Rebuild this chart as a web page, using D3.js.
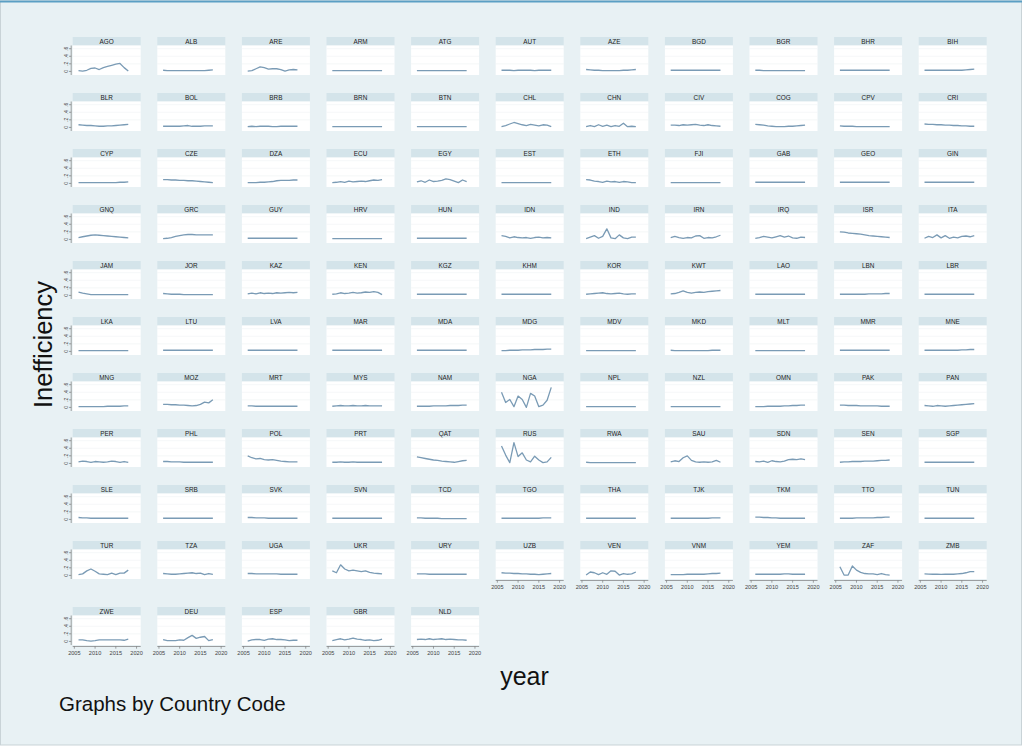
<!DOCTYPE html>
<html><head><meta charset="utf-8">
<script src="https://cdn.jsdelivr.net/npm/d3@7"></script>
<style>body{margin:0;background:#fff;} svg{display:block;font-family:"Liberation Sans",Arial,sans-serif;}</style>
</head><body><svg id="c" width="1024" height="747"></svg>
<script>
const years = [2006,2007,2008,2009,2010,2011,2012,2013,2014,2015,2016,2017,2018];
const xTicks = [2005,2010,2015,2020];
const yTicks = [0,0.2,0.4,0.6];
const yTickLabels = ["0",".2",".4",".6"];

const row1Codes = ["AGO","ALB","ARE","ARM","ATG","AUT","AZE","BGD","BGR","BHR","BIH"];
const row1Values = [
 [0.02,0.01,0.03,0.08,0.09,0.05,0.10,0.13,0.16,0.19,0.21,0.10,0.01],
 [0.03,0.02,0.02,0.02,0.02,0.02,0.02,0.02,0.02,0.02,0.02,0.03,0.04],
 [0.01,0.02,0.07,0.12,0.10,0.06,0.07,0.07,0.05,0.01,0.04,0.05,0.04],
 [0.02,0.02,0.02,0.02,0.02,0.02,0.02,0.02,0.02,0.02,0.02,0.02,0.02],
 [0.02,0.02,0.02,0.02,0.02,0.02,0.02,0.02,0.02,0.02,0.02,0.02,0.02],
 [0.03,0.03,0.03,0.02,0.03,0.03,0.03,0.03,0.02,0.03,0.03,0.03,0.03],
 [0.05,0.04,0.03,0.03,0.02,0.02,0.02,0.02,0.02,0.03,0.03,0.04,0.05],
 [0.03,0.03,0.03,0.03,0.03,0.03,0.03,0.03,0.03,0.03,0.03,0.03,0.03],
 [0.03,0.03,0.02,0.02,0.02,0.02,0.02,0.02,0.02,0.02,0.02,0.02,0.02],
 [0.03,0.03,0.03,0.03,0.03,0.03,0.03,0.03,0.03,0.03,0.03,0.03,0.03],
 [0.03,0.03,0.03,0.03,0.03,0.03,0.03,0.03,0.03,0.03,0.04,0.05,0.06]];

const row2Codes = ["BLR","BOL","BRB","BRN","BTN","CHL","CHN","CIV","COG","CPV","CRI"];
const row2Values = [
 [0.07,0.06,0.05,0.05,0.04,0.03,0.03,0.04,0.04,0.05,0.06,0.07,0.08],
 [0.03,0.03,0.03,0.03,0.03,0.04,0.05,0.03,0.03,0.03,0.04,0.04,0.04],
 [0.02,0.03,0.02,0.03,0.03,0.03,0.02,0.02,0.03,0.03,0.03,0.03,0.03],
 [0.02,0.02,0.02,0.02,0.02,0.02,0.02,0.02,0.02,0.02,0.02,0.02,0.02],
 [0.02,0.02,0.02,0.02,0.02,0.02,0.02,0.02,0.02,0.02,0.02,0.02,0.02],
 [0.02,0.05,0.09,0.13,0.10,0.07,0.05,0.08,0.06,0.04,0.07,0.06,0.02],
 [0.02,0.05,0.02,0.07,0.03,0.06,0.02,0.05,0.03,0.11,0.02,0.03,0.02],
 [0.06,0.06,0.05,0.07,0.06,0.07,0.08,0.06,0.05,0.07,0.05,0.04,0.03],
 [0.08,0.07,0.06,0.04,0.03,0.02,0.02,0.02,0.03,0.03,0.04,0.05,0.06],
 [0.04,0.03,0.03,0.03,0.02,0.02,0.02,0.02,0.02,0.02,0.02,0.02,0.02],
 [0.09,0.08,0.08,0.07,0.07,0.06,0.06,0.05,0.05,0.04,0.04,0.03,0.03]];

const row3Codes = ["CYP","CZE","DZA","ECU","EGY","EST","ETH","FJI","GAB","GEO","GIN"];
const row3Values = [
 [0.02,0.02,0.02,0.02,0.02,0.02,0.02,0.02,0.02,0.02,0.03,0.03,0.04],
 [0.10,0.10,0.09,0.09,0.08,0.08,0.07,0.07,0.06,0.05,0.04,0.03,0.02],
 [0.02,0.02,0.02,0.03,0.03,0.04,0.05,0.07,0.08,0.08,0.08,0.09,0.09],
 [0.02,0.03,0.05,0.03,0.06,0.04,0.05,0.06,0.05,0.07,0.09,0.08,0.10],
 [0.04,0.07,0.03,0.09,0.05,0.06,0.08,0.12,0.10,0.06,0.02,0.09,0.05],
 [0.02,0.02,0.02,0.02,0.02,0.02,0.02,0.02,0.02,0.02,0.02,0.02,0.02],
 [0.10,0.09,0.06,0.05,0.03,0.06,0.04,0.05,0.03,0.05,0.04,0.02,0.02],
 [0.02,0.02,0.02,0.02,0.02,0.02,0.02,0.02,0.02,0.02,0.02,0.02,0.02],
 [0.03,0.03,0.03,0.03,0.03,0.03,0.03,0.03,0.03,0.03,0.03,0.03,0.03],
 [0.03,0.03,0.03,0.03,0.03,0.03,0.03,0.03,0.03,0.03,0.03,0.03,0.03],
 [0.03,0.03,0.03,0.03,0.03,0.03,0.03,0.03,0.03,0.03,0.03,0.03,0.03]];

const row4Codes = ["GNQ","GRC","GUY","HRV","HUN","IDN","IND","IRN","IRQ","ISR","ITA"];
const row4Values = [
 [0.05,0.07,0.09,0.11,0.12,0.11,0.10,0.09,0.08,0.07,0.06,0.05,0.04],
 [0.02,0.03,0.05,0.08,0.10,0.12,0.13,0.13,0.12,0.12,0.12,0.12,0.12],
 [0.03,0.03,0.03,0.03,0.03,0.03,0.03,0.03,0.03,0.03,0.03,0.03,0.03],
 [0.02,0.02,0.02,0.02,0.02,0.02,0.02,0.02,0.02,0.02,0.02,0.02,0.02],
 [0.03,0.03,0.03,0.03,0.03,0.03,0.03,0.03,0.03,0.03,0.03,0.03,0.03],
 [0.10,0.08,0.04,0.07,0.05,0.04,0.05,0.03,0.05,0.06,0.04,0.05,0.04],
 [0.02,0.06,0.10,0.03,0.08,0.28,0.04,0.02,0.12,0.04,0.02,0.06,0.06],
 [0.05,0.08,0.05,0.03,0.05,0.04,0.09,0.10,0.03,0.05,0.04,0.07,0.11],
 [0.03,0.05,0.08,0.06,0.04,0.07,0.10,0.06,0.09,0.04,0.03,0.06,0.05],
 [0.20,0.19,0.17,0.16,0.15,0.14,0.12,0.10,0.09,0.08,0.07,0.06,0.05],
 [0.03,0.08,0.05,0.12,0.04,0.10,0.03,0.06,0.04,0.08,0.09,0.07,0.10]];

const row5Codes = ["JAM","JOR","KAZ","KEN","KGZ","KHM","KOR","KWT","LAO","LBN","LBR"];
const row5Values = [
 [0.09,0.06,0.04,0.02,0.02,0.02,0.02,0.02,0.02,0.02,0.02,0.02,0.02],
 [0.05,0.04,0.03,0.03,0.03,0.02,0.02,0.02,0.02,0.02,0.02,0.02,0.02],
 [0.04,0.06,0.04,0.07,0.05,0.06,0.05,0.07,0.06,0.07,0.08,0.07,0.08],
 [0.03,0.04,0.07,0.05,0.06,0.08,0.06,0.07,0.09,0.08,0.10,0.08,0.02],
 [0.03,0.03,0.03,0.03,0.03,0.03,0.03,0.03,0.03,0.03,0.03,0.03,0.03],
 [0.03,0.03,0.03,0.03,0.03,0.03,0.03,0.03,0.03,0.03,0.03,0.03,0.03],
 [0.03,0.04,0.05,0.06,0.07,0.05,0.04,0.05,0.06,0.04,0.03,0.04,0.04],
 [0.04,0.05,0.08,0.12,0.08,0.06,0.08,0.09,0.08,0.10,0.11,0.12,0.13],
 [0.03,0.03,0.03,0.03,0.03,0.03,0.03,0.03,0.03,0.03,0.03,0.03,0.03],
 [0.03,0.03,0.03,0.03,0.03,0.03,0.03,0.04,0.04,0.04,0.04,0.05,0.05],
 [0.03,0.03,0.03,0.03,0.03,0.03,0.03,0.03,0.03,0.03,0.03,0.03,0.03]];

const row6Codes = ["LKA","LTU","LVA","MAR","MDA","MDG","MDV","MKD","MLT","MMR","MNE"];
const row6Values = [
 [0.02,0.02,0.02,0.02,0.02,0.02,0.02,0.02,0.02,0.02,0.02,0.02,0.02],
 [0.03,0.03,0.03,0.03,0.03,0.03,0.03,0.03,0.03,0.03,0.03,0.03,0.03],
 [0.03,0.03,0.03,0.03,0.03,0.03,0.03,0.03,0.03,0.03,0.03,0.03,0.03],
 [0.03,0.03,0.03,0.03,0.03,0.03,0.03,0.03,0.03,0.03,0.03,0.03,0.03],
 [0.03,0.03,0.03,0.03,0.03,0.03,0.03,0.03,0.03,0.03,0.03,0.03,0.03],
 [0.02,0.02,0.03,0.03,0.03,0.04,0.04,0.04,0.05,0.05,0.05,0.06,0.06],
 [0.02,0.02,0.02,0.02,0.02,0.02,0.02,0.02,0.02,0.02,0.02,0.02,0.02],
 [0.03,0.02,0.02,0.02,0.02,0.02,0.02,0.02,0.02,0.02,0.03,0.03,0.03],
 [0.02,0.02,0.02,0.02,0.02,0.02,0.02,0.02,0.02,0.02,0.02,0.02,0.02],
 [0.03,0.03,0.03,0.03,0.03,0.03,0.03,0.03,0.03,0.03,0.03,0.03,0.03],
 [0.03,0.03,0.03,0.03,0.03,0.03,0.03,0.03,0.03,0.04,0.04,0.05,0.05]];

const row7Codes = ["MNG","MOZ","MRT","MYS","NAM","NGA","NPL","NZL","OMN","PAK","PAN"];
const row7Values = [
 [0.02,0.02,0.02,0.02,0.02,0.02,0.02,0.03,0.03,0.03,0.03,0.04,0.04],
 [0.08,0.08,0.07,0.07,0.06,0.06,0.05,0.04,0.05,0.08,0.14,0.12,0.20],
 [0.04,0.04,0.03,0.03,0.03,0.03,0.03,0.03,0.03,0.03,0.03,0.03,0.03],
 [0.03,0.04,0.05,0.04,0.04,0.05,0.04,0.04,0.05,0.04,0.04,0.04,0.04],
 [0.03,0.03,0.03,0.03,0.04,0.04,0.04,0.04,0.05,0.05,0.05,0.06,0.06],
 [0.40,0.13,0.21,0.02,0.30,0.21,0.00,0.37,0.30,0.02,0.06,0.19,0.53],
 [0.02,0.02,0.02,0.02,0.02,0.02,0.02,0.02,0.02,0.02,0.02,0.02,0.02],
 [0.02,0.02,0.02,0.02,0.02,0.02,0.02,0.02,0.02,0.02,0.02,0.02,0.02],
 [0.02,0.02,0.02,0.03,0.03,0.03,0.03,0.04,0.04,0.05,0.05,0.06,0.06],
 [0.06,0.06,0.05,0.05,0.05,0.04,0.04,0.04,0.04,0.04,0.03,0.03,0.03],
 [0.05,0.04,0.03,0.05,0.04,0.03,0.04,0.05,0.06,0.07,0.08,0.09,0.10]];

const row8Codes = ["PER","PHL","POL","PRT","QAT","RUS","RWA","SAU","SDN","SEN","SGP"];
const row8Values = [
 [0.04,0.06,0.05,0.03,0.05,0.04,0.03,0.04,0.06,0.05,0.03,0.05,0.03],
 [0.05,0.05,0.04,0.04,0.04,0.03,0.03,0.03,0.03,0.03,0.03,0.03,0.03],
 [0.20,0.15,0.12,0.13,0.10,0.09,0.10,0.08,0.06,0.05,0.04,0.04,0.04],
 [0.03,0.03,0.04,0.03,0.03,0.04,0.03,0.03,0.03,0.03,0.03,0.03,0.03],
 [0.17,0.15,0.13,0.11,0.09,0.08,0.06,0.05,0.04,0.03,0.05,0.07,0.08],
 [0.46,0.22,0.02,0.55,0.18,0.28,0.09,0.04,0.19,0.09,0.02,0.04,0.16],
 [0.03,0.02,0.02,0.02,0.02,0.02,0.02,0.02,0.02,0.02,0.02,0.02,0.02],
 [0.04,0.07,0.05,0.15,0.20,0.08,0.04,0.03,0.04,0.03,0.04,0.08,0.03],
 [0.05,0.04,0.06,0.03,0.07,0.05,0.04,0.06,0.10,0.11,0.10,0.12,0.10],
 [0.03,0.04,0.04,0.05,0.05,0.05,0.06,0.06,0.06,0.07,0.08,0.08,0.09],
 [0.03,0.03,0.03,0.03,0.03,0.03,0.03,0.03,0.03,0.03,0.03,0.03,0.03]];

const row9Codes = ["SLE","SRB","SVK","SVN","TCD","TGO","THA","TJK","TKM","TTO","TUN"];
const row9Values = [
 [0.05,0.04,0.04,0.03,0.03,0.03,0.03,0.03,0.03,0.03,0.03,0.03,0.03],
 [0.03,0.03,0.03,0.03,0.03,0.03,0.03,0.03,0.03,0.03,0.03,0.03,0.03],
 [0.05,0.05,0.04,0.04,0.04,0.03,0.03,0.03,0.03,0.03,0.03,0.03,0.03],
 [0.03,0.03,0.03,0.03,0.03,0.03,0.03,0.03,0.03,0.03,0.03,0.03,0.03],
 [0.04,0.04,0.03,0.03,0.03,0.03,0.02,0.02,0.02,0.02,0.02,0.02,0.02],
 [0.03,0.03,0.03,0.03,0.03,0.03,0.03,0.03,0.03,0.03,0.04,0.04,0.04],
 [0.03,0.03,0.03,0.03,0.03,0.03,0.03,0.03,0.03,0.03,0.03,0.03,0.03],
 [0.03,0.03,0.03,0.03,0.03,0.03,0.03,0.03,0.03,0.03,0.04,0.04,0.04],
 [0.06,0.06,0.05,0.05,0.04,0.04,0.03,0.03,0.03,0.03,0.03,0.03,0.03],
 [0.03,0.03,0.03,0.03,0.04,0.04,0.04,0.04,0.04,0.05,0.05,0.06,0.06],
 [0.03,0.03,0.03,0.03,0.03,0.03,0.03,0.03,0.03,0.03,0.03,0.03,0.03]];

const row10Codes = ["TUR","TZA","UGA","UKR","URY","UZB","VEN","VNM","YEM","ZAF","ZMB"];
const row10Values = [
 [0.02,0.04,0.12,0.17,0.11,0.04,0.03,0.02,0.06,0.02,0.06,0.06,0.14],
 [0.05,0.04,0.03,0.03,0.04,0.05,0.06,0.07,0.05,0.06,0.02,0.05,0.03],
 [0.05,0.05,0.04,0.04,0.04,0.04,0.04,0.04,0.03,0.03,0.03,0.03,0.03],
 [0.12,0.07,0.28,0.17,0.12,0.14,0.12,0.10,0.12,0.08,0.06,0.05,0.04],
 [0.04,0.04,0.04,0.03,0.03,0.03,0.03,0.03,0.03,0.03,0.03,0.03,0.03],
 [0.07,0.06,0.06,0.05,0.05,0.04,0.04,0.03,0.03,0.02,0.03,0.04,0.05],
 [0.01,0.09,0.07,0.02,0.07,0.03,0.12,0.11,0.01,0.05,0.03,0.04,0.09],
 [0.02,0.02,0.02,0.02,0.03,0.03,0.03,0.03,0.03,0.04,0.05,0.05,0.06],
 [0.03,0.03,0.03,0.03,0.03,0.03,0.03,0.04,0.04,0.03,0.03,0.03,0.03],
 [0.23,0.01,0.01,0.25,0.14,0.08,0.05,0.04,0.04,0.02,0.05,0.02,0.01],
 [0.04,0.035,0.03,0.03,0.025,0.03,0.03,0.03,0.04,0.05,0.07,0.10,0.10]];

const row11Codes = ["ZWE","DEU","ESP","GBR","NLD"];
const row11Values = [
 [0.04,0.04,0.02,0.01,0.02,0.04,0.04,0.04,0.04,0.04,0.04,0.03,0.06],
 [0.05,0.02,0.02,0.02,0.04,0.03,0.10,0.16,0.08,0.11,0.13,0.02,0.05],
 [0.01,0.04,0.05,0.05,0.03,0.06,0.07,0.05,0.05,0.04,0.02,0.03,0.03],
 [0.02,0.05,0.07,0.04,0.06,0.09,0.06,0.05,0.03,0.04,0.02,0.03,0.06],
 [0.05,0.06,0.05,0.07,0.05,0.06,0.07,0.05,0.06,0.05,0.04,0.04,0.03]];

const rowCodes = [row1Codes,row2Codes,row3Codes,row4Codes,row5Codes,row6Codes,row7Codes,row8Codes,row9Codes,row10Codes,row11Codes];
const rowValues = [row1Values,row2Values,row3Values,row4Values,row5Values,row6Values,row7Values,row8Values,row9Values,row10Values,row11Values];

// ---- layout ----
const W = 1024, H = 747;
const svg = d3.select("#c");
svg.append("rect").attr("x",0).attr("y",0).attr("width",W).attr("height",H).attr("fill","#ffffff");
svg.append("rect").attr("x",0.5).attr("y",1).attr("width",1021).attr("height",744)
  .attr("fill","#e8f1f4").attr("stroke","#c9d3d7").attr("stroke-width",1);
svg.append("line").attr("x1",0).attr("x2",1022).attr("y1",1.5).attr("y2",1.5)
  .attr("stroke","#5b9fc4").attr("stroke-width",2);

const colX0 = 72.7, colStep = 84.6, plotW = 68;
const rowY0 = 37, rowStep = 56, headerH = 8.5, plotH = 29.5;
const lastRowExtra = 10;
const nRows = rowCodes.length;

const lineColor = "#7a9bb5";

rowCodes.forEach((codes, r) => {
  codes.forEach((code, c) => {
    const top = rowY0 + r*rowStep + (r === nRows-1 ? lastRowExtra : 0);
    const left = colX0 + c*colStep;
    const pTop = top + headerH, pBot = pTop + plotH;
    const x = d3.scaleLinear().domain([2004.6, 2021.0]).range([left, left+plotW]);
    const y = d3.scaleLinear().domain([-0.095, 0.685]).range([pBot, pTop]);
    const g = svg.append("g");
    g.append("rect").attr("x",left).attr("y",top).attr("width",plotW).attr("height",headerH)
      .attr("fill","#d4e4ea");
    g.append("text").attr("x",left+plotW/2).attr("y",top+headerH-1.8)
      .attr("text-anchor","middle").attr("font-size",6.4).attr("fill","#222").text(code);
    g.append("rect").attr("x",left).attr("y",pTop).attr("width",plotW).attr("height",plotH)
      .attr("fill","#ffffff");
    g.selectAll("line.grid").data(yTicks.slice(1)).join("line")
      .attr("x1",left).attr("x2",left+plotW)
      .attr("y1",d=>y(d)).attr("y2",d=>y(d))
      .attr("stroke","#f0f3f5").attr("stroke-width",0.7);
    const vals = rowValues[r][c];
    const line = d3.line().x((d,i)=>x(years[i])).y(d=>y(d));
    g.append("path").attr("d",line(vals)).attr("fill","none")
      .attr("stroke",lineColor).attr("stroke-width",1.3).attr("stroke-linejoin","round");
    if (c === 0) {
      const ax = left - 1.5;
      g.append("line").attr("x1",ax).attr("x2",ax).attr("y1",pTop).attr("y2",pBot)
        .attr("stroke","#666").attr("stroke-width",0.6);
      yTicks.forEach((t,i) => {
        g.append("line").attr("x1",ax-2.2).attr("x2",ax).attr("y1",y(t)).attr("y2",y(t))
          .attr("stroke","#666").attr("stroke-width",0.6);
        g.append("text").attr("transform",`translate(${ax-3.4},${y(t)}) rotate(-90)`)
          .attr("text-anchor","middle").attr("font-size",5).attr("fill","#444").text(yTickLabels[i]);
      });
    }
    const isBottom = (r === nRows-1) || (r === nRows-2 && c >= rowCodes[nRows-1].length);
    if (isBottom) {
      const ay = pBot + 1.5;
      g.append("line").attr("x1",left).attr("x2",left+plotW).attr("y1",ay).attr("y2",ay)
        .attr("stroke","#666").attr("stroke-width",0.6);
      xTicks.forEach(t => {
        g.append("line").attr("x1",x(t)).attr("x2",x(t)).attr("y1",ay).attr("y2",ay+2.2)
          .attr("stroke","#666").attr("stroke-width",0.6);
        g.append("text").attr("x",x(t)).attr("y",ay+8.2).attr("text-anchor","middle")
          .attr("font-size",5.6).attr("fill","#444").text(t);
      });
    }
  });
});

svg.append("text").attr("transform","translate(51.5,344.5) rotate(-90)")
  .attr("text-anchor","middle").attr("font-size",25.5).attr("fill","#111").text("Inefficiency");
svg.append("text").attr("x",524.5).attr("y",685).attr("text-anchor","middle")
  .attr("font-size",25).attr("fill","#111").text("year");
svg.append("text").attr("x",59).attr("y",711).attr("font-size",20.5).attr("fill","#111")
  .text("Graphs by Country Code");
</script></body></html>
